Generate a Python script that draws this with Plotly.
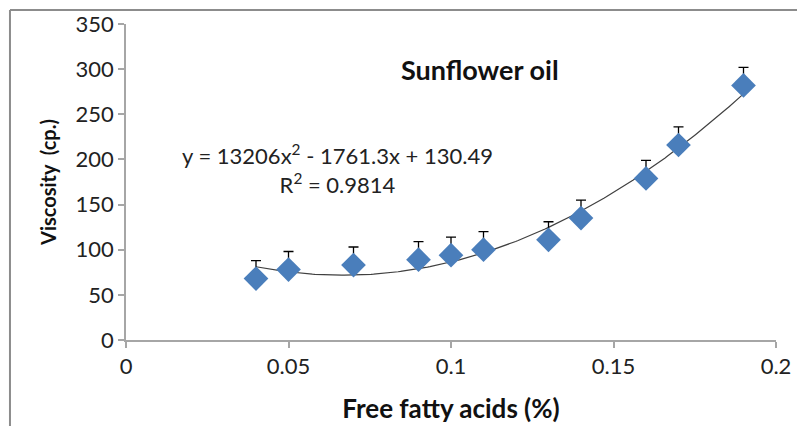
import numpy as np
import plotly.graph_objects as go

# Free fatty acids (%) vs viscosity (cp.)
ffa = [0.04, 0.05, 0.07, 0.09, 0.10, 0.11, 0.13, 0.14, 0.16, 0.17, 0.19]
viscosity = [68, 78, 83, 89, 94, 100, 111, 135, 179, 216, 282]
err_plus = [20, 20, 20, 20, 20, 20, 20, 20, 20, 20, 20]

# polynomial trendline as printed on the chart
trend_coef = [13206, -1761.3, 130.49]

FONT = "Lato"
AXIS_GREY = "#a6a6a6"

xs = np.linspace(min(ffa), max(ffa), 200)
ys = np.polyval(trend_coef, xs)

fig = go.Figure()

fig.add_trace(go.Scatter(
    x=xs, y=ys, mode="lines",
    line=dict(color="#404040", width=1.2),
    hoverinfo="skip",
))

fig.add_trace(go.Scatter(
    x=ffa, y=viscosity, mode="markers",
    marker=dict(symbol="diamond", size=19, color="#4a7ebb",
                line=dict(width=0)),
    error_y=dict(type="data", symmetric=False, array=err_plus,
                 arrayminus=[0] * len(ffa),
                 color="#000000", thickness=1.3, width=5),
))

# page body keeps its default 8px margin, so the figure is 16px smaller
fig.update_layout(
    width=789, height=418,
    paper_bgcolor="#FFFFFF",
    plot_bgcolor="#FFFFFF",
    margin=dict(l=118, r=21, t=16, b=86, autoexpand=False),
    showlegend=False,
    font=dict(family=FONT, color="#222222"),
    xaxis=dict(
        range=[0, 0.2], dtick=0.05, tick0=0, automargin=False,
        showgrid=False, zeroline=False,
        showline=True, linecolor=AXIS_GREY, linewidth=1.5,
        ticks="outside", ticklen=6, tickcolor=AXIS_GREY, tickwidth=1.5,
        tickfont=dict(size=22, family=FONT, color="#222222"),
        title=dict(text="<b>Free fatty acids (%)</b>",
                   font=dict(size=26, family=FONT, color="#111111"),
                   standoff=22),
    ),
    yaxis=dict(
        range=[0, 350], dtick=50, automargin=False,
        showgrid=False, zeroline=False,
        showline=True, linecolor=AXIS_GREY, linewidth=1.5,
        ticks="outside", ticklen=6, tickcolor=AXIS_GREY, tickwidth=1.5,
        tickfont=dict(size=22, family=FONT, color="#222222"),
        title=dict(text="<b>Viscosity  (cp.)</b>",
                   font=dict(size=20, family=FONT, color="#111111"),
                   standoff=14),
    ),
    annotations=[
        dict(text="<b>Sunflower oil</b>", x=0.545, y=0.857,
             xref="paper", yref="paper", xanchor="center", yanchor="middle",
             showarrow=False,
             font=dict(size=27, family=FONT, color="#111111")),
        dict(text="y = 13206x<sup>2</sup> - 1761.3x + 130.49<br>R<sup>2</sup> = 0.9814",
             x=0.326, y=0.54, xref="paper", yref="paper",
             xanchor="center", yanchor="middle", showarrow=False,
             align="center",
             font=dict(size=22, family=FONT, color="#222222")),
    ],
    shapes=[
        dict(type="line", xref="paper", yref="paper",
             x0=-0.1785, x1=1.05, y0=1.044, y1=1.044,
             line=dict(color="#8c8c8c", width=2)),
        dict(type="line", xref="paper", yref="paper",
             x0=-0.1785, x1=-0.1785, y0=1.044, y1=-0.31,
             line=dict(color="#8c8c8c", width=2)),
    ],
)

fig.write_html("out.html")
